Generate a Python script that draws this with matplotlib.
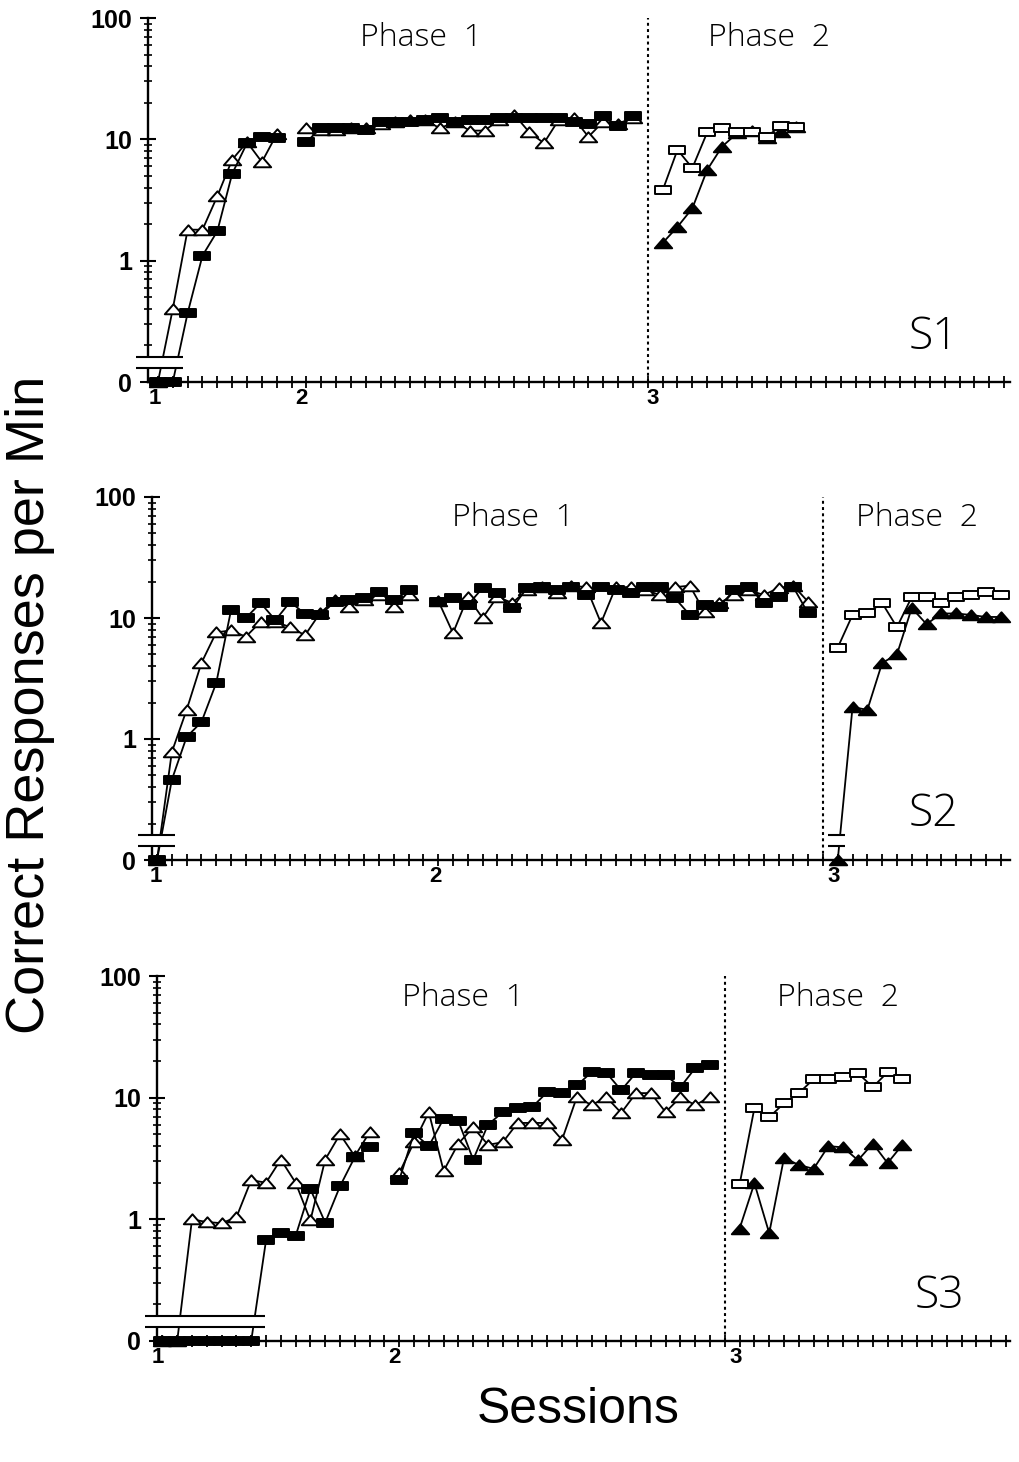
import numpy as np
import matplotlib
matplotlib.use("Agg")
import matplotlib.pyplot as plt
from matplotlib.path import Path
from matplotlib.patches import Rectangle
from matplotlib.ticker import FixedLocator, LogLocator, NullFormatter

# ------------------------------------------------------------
# data: correct responses per min, one value per block
# (0 = no correct responses, drawn on the "0" line below the break)
# ------------------------------------------------------------

# S1
S1_P1A_START = 0
S1_P1A_SQ = [0, 0, 0.37, 1.1, 1.75, 5.2, 9.3, 10.5, 10.2]
S1_P1A_TRI = [0, 0.4, 1.8, 1.8, 3.4, 6.8, 9.5, 6.5, 11.0]
S1_P1B_START = 10
S1_P1B_SQ = [9.5, 12.5, 12.5, 12.5, 12, 14, 14, 14, 14.5, 15, 14, 14.5,
             14.5, 15, 15, 15, 15, 15, 14, 13.5, 15.5, 12.8, 15.5]
S1_P1B_TRI = [12.5, 12, 12, 12.5, 12.5, 13.5, 14, 14.5, 14.5, 12.3, 14, 11.8,
              11.8, 14.5, 16, 11.5, 9.3, 14.5, 15, 10.5, 14, 13.5, 15]
S1_P2_START = 34
S1_P2_SQ = [3.8, 8.2, 5.8, 11.4, 12.4, 11.5, 11.5, 10.5, 13.0, 12.6]
S1_P2_TRI = [1.4, 1.9, 2.7, 5.6, 8.7, 11.2, 11.8, 10.3, 11.5, 12.6]
S1_BOUNDARY = 33

# S2
S2_P1A_START = 0
S2_P1A_SQ = [0, 0.46, 1.04, 1.38, 2.9, 11.6, 10, 13.3, 9.6, 13.6, 10.8, 10.5,
             13.6, 14, 14.6, 16.4, 14, 17]
S2_P1A_TRI = [0, 0.78, 1.74, 4.25, 7.6, 7.9, 7.0, 9.3, 9.3, 8.4, 7.2, 10.9,
              14, 12.4, 14, 15.5, 12.4, 15.5]
S2_P1B_START = 19
S2_P1B_SQ = [13.6, 14.6, 12.8, 17.7, 16, 12.1, 17.7, 18, 17, 18, 15.5, 18, 17,
             16, 18, 18, 14.6, 10.6, 12.8, 12.4, 17, 18, 13.3, 14.9, 18, 10.9]
S2_P1B_TRI = [13.9, 7.5, 14.9, 10, 15, 13.3, 17, 18, 16, 18.5, 18, 9.1, 18,
              18, 17, 15.5, 18, 18.5, 11.2, 13.3, 15.5, 17, 15.5, 17.7, 18.5, 13.6]
S2_P2_START = 46
S2_P2_SQ = [5.7, 10.6, 10.9, 13.3, 8.4, 14.9, 14.9, 13.3, 14.9, 15.5, 16.4, 15.5]
S2_P2_TRI = [0, 1.84, 1.74, 4.25, 5.0, 12.1, 8.9, 10.9, 10.9, 10.6, 10.2, 10.2]
S2_BOUNDARY = 45

# S3
S3_P1A_START = 0
S3_P1A_SQ = [0, 0, 0, 0, 0, 0, 0, 0.67, 0.77, 0.73, 1.77, 0.94, 1.87, 3.25, 3.9]
S3_P1A_TRI = [0, 0, 1.0, 0.95, 0.93, 1.04, 2.1, 2.0, 3.1, 2.0, 0.98, 3.1, 5.0, 3.3, 5.2]
S3_P1B_START = 16
S3_P1B_SQ = [2.1, 5.1, 4.0, 6.7, 6.4, 3.1, 6.0, 7.6, 8.2, 8.4, 11.1, 11.0,
             12.6, 16.2, 16.0, 11.5, 16.0, 15.3, 15.3, 12.2, 17.5, 18.5]
S3_P1B_TRI = [2.4, 4.3, 7.6, 2.5, 4.2, 5.7, 4.1, 4.3, 6.2, 6.2, 6.2, 4.5,
              10.1, 8.7, 10.1, 7.5, 10.9, 10.9, 7.6, 10.1, 8.7, 10.1]
S3_P2_START = 39
S3_P2_SQ = [1.94, 8.2, 6.9, 9.0, 10.9, 14.2, 14.2, 14.7, 15.9, 12.2, 16.2, 14.2]
S3_P2_TRI = [0.84, 1.98, 0.77, 3.2, 2.8, 2.6, 4.0, 3.9, 3.06, 4.2, 2.9, 4.1]
S3_BOUNDARY = 38

SESSION_LABELS = ["1", "2", "3"]
SUBJECTS = ["S1", "S2", "S3"]

# ------------------------------------------------------------
# layout (pixels of the 1020x1462 figure)
# ------------------------------------------------------------
W, H = 1020, 1462
ZERO = 0.1            # where "0" sits on the log axis
BRK_LO, BRK_HI = 0.13, 0.162

panels = [
    dict(segs=[(S1_P1A_START, S1_P1A_SQ, S1_P1A_TRI, 1),
               (S1_P1B_START, S1_P1B_SQ, S1_P1B_TRI, 1),
               (S1_P2_START, S1_P2_SQ, S1_P2_TRI, 2)],
         boundary=S1_BOUNDARY, box=(148, 18, 1010, 382), xlim=(-0.67, 57.4),
         lab_x=[-0.2, 9.7, 33.3], breaks=[(-1.48, 1.68)],
         phase_px=[(421, 38), (769, 38)], subj_px=(934, 338)),
    dict(segs=[(S2_P1A_START, S2_P1A_SQ, S2_P1A_TRI, 1),
               (S2_P1B_START, S2_P1B_SQ, S2_P1B_TRI, 1),
               (S2_P2_START, S2_P2_SQ, S2_P2_TRI, 2)],
         boundary=S2_BOUNDARY, box=(152, 497, 1010, 860), xlim=(-0.34, 57.64),
         lab_x=[-0.1, 18.8, 45.7], breaks=[(-1.28, 1.22), (45.34, 46.49)],
         phase_px=[(513, 518), (917, 518)], subj_px=(934, 815)),
    dict(segs=[(S3_P1A_START, S3_P1A_SQ, S3_P1A_TRI, 1),
               (S3_P1B_START, S3_P1B_SQ, S3_P1B_TRI, 1),
               (S3_P2_START, S3_P2_SQ, S3_P2_TRI, 2)],
         boundary=S3_BOUNDARY, box=(157, 976, 1010, 1341), xlim=(-0.365, 57.27),
         lab_x=[-0.3, 15.7, 38.7], breaks=[(-1.18, 6.94)],
         phase_px=[(463, 998), (838, 998)], subj_px=(939, 1297)),
]

# flat markers like the original plotter symbols
RECT = Path([(-1, -0.56), (1, -0.56), (1, 0.56), (-1, 0.56), (-1, -0.56)],
            [Path.MOVETO, Path.LINETO, Path.LINETO, Path.LINETO, Path.CLOSEPOLY])
TRI = Path([(-1, -0.55), (1, -0.55), (0, 0.6), (-1, -0.55)],
           [Path.MOVETO, Path.LINETO, Path.LINETO, Path.CLOSEPOLY])

TICK_FONT = "Liberation Sans"
THIN_FONT = ["Open Sans", "DejaVu Sans"]

fig = plt.figure(figsize=(W / 100, H / 100), dpi=100)


def fx(x):
    return x / W


def fy(y):
    return 1 - y / H


for i, p in enumerate(panels):
    l, t, r, b = p["box"]
    ax = fig.add_axes([fx(l), fy(b), (r - l) / W, (b - t) / H])
    ax.set_yscale("log")
    ax.set_ylim(ZERO, 100)
    ax.set_xlim(*p["xlim"])

    for start, sq, tri, phase in p["segs"]:
        x = start + np.arange(len(sq))
        y_sq = np.where(np.array(sq) == 0, ZERO, sq)
        y_tri = np.where(np.array(tri) == 0, ZERO, tri)
        tri_fc = "white" if phase == 1 else "black"
        sq_fc = "black" if phase == 1 else "white"
        ax.plot(x, y_tri, color="black", lw=1.3, marker=TRI, ms=12.5,
                mfc=tri_fc, mec="black", mew=1.4, clip_on=False, zorder=3)
        ax.plot(x, y_sq, color="black", lw=1.3, marker=RECT, ms=11.5,
                mfc=sq_fc, mec="black", mew=1.4, clip_on=False, zorder=3.2)

    # phase boundary
    ax.vlines(p["boundary"], ZERO, 100, colors="black", lw=1.5,
              linestyles=(0, (1.4, 1.6)), zorder=2)

    # axis breaks between 0 and the log scale
    for x0, x1 in p["breaks"]:
        ax.add_patch(Rectangle((x0, BRK_LO), x1 - x0, BRK_HI - BRK_LO,
                               facecolor="white", edgecolor="none",
                               clip_on=False, zorder=5))
        ax.hlines([BRK_LO, BRK_HI], x0, x1, colors="black", lw=1.5,
                  clip_on=False, zorder=6)

    # spines / ticks
    for side in ["top", "right"]:
        ax.spines[side].set_visible(False)
    for side in ["left", "bottom"]:
        ax.spines[side].set_linewidth(1.7)

    ax.yaxis.set_major_locator(FixedLocator([0.1, 1, 10, 100]))
    ax.yaxis.set_minor_locator(LogLocator(base=10, subs=np.arange(2, 10)))
    ax.yaxis.set_minor_formatter(NullFormatter())
    ax.set_yticklabels(["0", "1", "10", "100"], fontsize=18,
                       fontweight="bold", family=TICK_FONT)
    ax.tick_params(axis="y", which="major", direction="inout", length=11,
                   width=1.5, pad=6)
    ax.tick_params(axis="y", which="minor", direction="inout", length=6,
                   width=1.2)

    ax.set_xticks(np.arange(0, 58))
    ax.tick_params(axis="x", which="major", direction="inout", length=9,
                   width=1.3, labelbottom=False)
    for xl, lab in zip(p["lab_x"], SESSION_LABELS):
        ax.annotate(lab, xy=(xl, 0), xycoords=("data", "axes fraction"),
                    xytext=(0, -4), textcoords="offset points",
                    ha="center", va="top", fontsize=16, fontweight="bold",
                    family=TICK_FONT, annotation_clip=False)

    # phase headings and subject label
    for (px, py), txt in zip(p["phase_px"], ["Phase  1", "Phase  2"]):
        fig.text(fx(px), fy(py), txt, ha="center", va="center",
                 fontsize=23, family=THIN_FONT, fontweight="light")
    sx, sy = p["subj_px"]
    fig.text(fx(sx), fy(sy), SUBJECTS[i], ha="center",
             va="center", fontsize=32, family=THIN_FONT, fontweight="light")

fig.text(fx(30), fy(705), "Correct Responses per Min", rotation=90,
         ha="center", va="center", fontsize=39, family=TICK_FONT)
fig.text(fx(578), fy(1410), "Sessions", ha="center", va="center",
         fontsize=36, family=TICK_FONT)

fig.savefig("out.png", dpi=100)
